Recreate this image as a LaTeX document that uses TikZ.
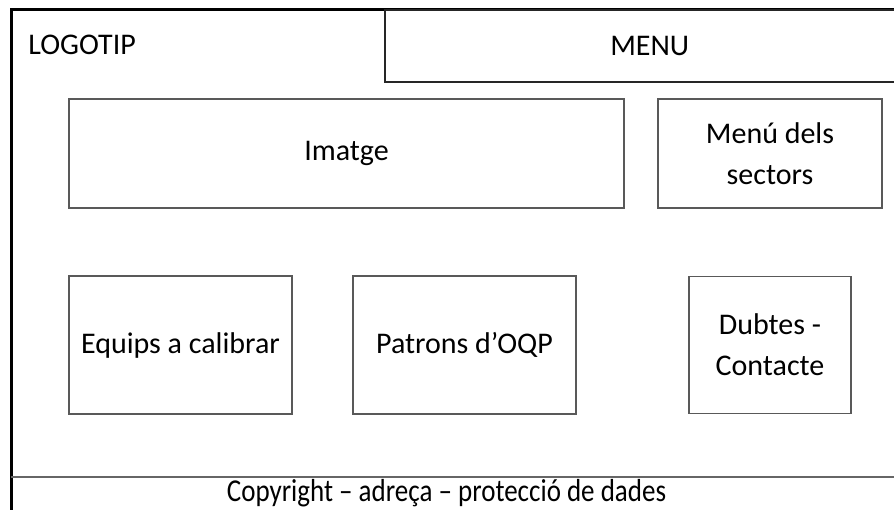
\documentclass[tikz,border=0pt]{standalone}
\usepackage{fontspec}
\setmainfont{Carlito}
\usetikzlibrary{positioning}

\begin{document}
\begin{tikzpicture}[x=0.5pt,y=-0.5pt,
    label text/.style={font=\fontsize{15}{20}\selectfont,inner sep=0pt},
    zone/.style={draw=black!65,line width=0.6pt,inner sep=0pt,align=center,
                 font=\fontsize{15}{20.5}\selectfont}]
% page size in pixels of the mock-up: 894 x 509

  \useasboundingbox (0,0) rectangle (894,509);
  \clip (0,0) rectangle (894,509);

% outer frame (runs off to the right and bottom)
  \draw[line width=1.5pt] (11,9) rectangle (920,540);

% header
  \node[label text,anchor=west] (logo) at (28,45) {LOGOTIP};
  \node[zone,draw=black!85,line width=0.75pt,anchor=north west,
        minimum width=265pt,minimum height=36pt] (menu) at (384,9) {MENU};

% middle row
  \node[zone,minimum width=277.5pt,minimum height=54.5pt] (imatge) at (346.5,153.5) {Imatge};
  \node[zone,minimum width=112pt,minimum height=54.5pt] (sectors) at (770,153.5) {Menú dels\\sectors};

% lower row
  \node[zone,minimum width=111.5pt,minimum height=69pt] (equips) at (180.5,345) {Equips a calibrar};
  \node[zone,minimum width=111.5pt,minimum height=69pt] (patrons) at (464.5,345) {Patrons d’OQP};
  \node[zone,minimum width=81pt,minimum height=68.5pt] (dubtes) at (770,345) {Dubtes -\\Contacte};

% footer
  \coordinate (footl) at (11,477);
  \coordinate (footr) at (894,477);
  \draw[black!60,line width=0.6pt] (footl) -- (footr);
  \node[label text,font=\fontsize{13.5}{16}\selectfont] (foot) at (446.5,493)
       {\scalebox{1}[1.18]{Copyright – adreça – protecció de dades}};

\end{tikzpicture}
\end{document}
